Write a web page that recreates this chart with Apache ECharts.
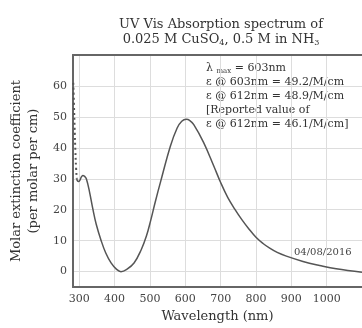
<!DOCTYPE html>
<html lang="en">
<head>
    <meta charset="UTF-8">
    <title>UV Vis</title>
    <script src="https://cdn.jsdelivr.net/npm/echarts@6/dist/echarts.min.js"></script>
    <style>
        html, body { margin: 0; padding: 0; background: #fff; }
    </style>
</head>
<body>
    <div id="main" style="width: 362px;height: 328px;"></div>
    <script>
        // dotted start of the scan (below ~292 nm)
        var dottedNm = [283, 285, 287, 289, 291, 293]
        var dottedEps = [61, 54, 46, 39, 33.5, 30]

        // measured spectrum
        var nm = [293, 295, 298, 302, 306, 310, 315, 320, 329, 338, 348, 362, 375, 390, 405, 418, 435, 455, 475, 490, 502, 515, 530, 558, 577, 590, 603, 612, 624, 652, 680, 700, 720, 740, 760, 780, 800, 820, 840, 860, 886, 933, 980, 1027, 1100]
        var eps = [30, 29.3, 29.1, 29.6, 30.6, 31.1, 30.8, 30, 25.8, 20.5, 15.3, 10, 6, 2.8, 0.8, 0, 0.8, 2.8, 7, 11.5, 16.5, 22.5, 29, 40.6, 46.4, 48.6, 49.2, 48.9, 47.5, 41.7, 34.3, 28.8, 24, 20.2, 16.8, 13.8, 11.1, 9.1, 7.5, 6.2, 5, 3.3, 2, 0.9, -0.2]

        var font = 'DejaVu Serif'

        function pairs(xs, ys) {
            return xs.map(function(x, i) { return [x, ys[i]] })
        }

        var mCharts = echarts.init(document.getElementById('main'))

        var option = {
            animation: false,
            title: {
                text: 'UV Vis Absorption spectrum of\n0.025 M CuSO{s|4}, 0.5 M in NH{s|3}',
                left: 216,
                top: 12,
                textAlign: 'center',
                textStyle: {
                    fontFamily: font,
                    fontSize: 13,
                    fontWeight: 'normal',
                    color: '#333',
                    lineHeight: 15,
                    rich: {
                        s: { fontFamily: font, fontSize: 8, color: '#333', verticalAlign: 'bottom', padding: [6, 0, 0, 0] }
                    }
                }
            },
            grid: {
                left: 71,
                right: 0,
                top: 55,
                bottom: 37
            },
            xAxis: [{
                type: 'value',
                min: 282,
                max: 1100,
                minInterval: 100,
                maxInterval: 100,
                name: 'Wavelength (nm)',
                nameLocation: 'middle',
                nameGap: 21,
                nameTextStyle: { fontFamily: font, fontSize: 13, color: '#333' },
                axisLine: { show: true, onZero: false, lineStyle: { color: '#666', width: 2 } },
                axisTick: { show: false },
                axisLabel: {
                    fontFamily: font, fontSize: 11, color: '#444', margin: 7,
                    showMinLabel: false, showMaxLabel: false,
                    formatter: function(v) { return String(v) }
                },
                splitLine: { show: true, lineStyle: { color: '#ddd', width: 1 } }
            }, {
                type: 'value',
                position: 'top',
                min: 282,
                max: 1100,
                axisLine: { show: true, onZero: false, lineStyle: { color: '#666', width: 2 } },
                axisTick: { show: false },
                axisLabel: { show: false },
                splitLine: { show: false }
            }],
            yAxis: {
                type: 'value',
                min: -5,
                max: 70,
                minInterval: 10,
                maxInterval: 10,
                name: 'Molar extinction coefficient\n(per molar per cm)',
                nameLocation: 'middle',
                nameGap: 15,
                nameTextStyle: { fontFamily: font, fontSize: 13, color: '#333', lineHeight: 17 },
                axisLine: { show: true, onZero: false, lineStyle: { color: '#666', width: 2 } },
                axisTick: { show: false },
                axisLabel: {
                    fontFamily: font, fontSize: 11, color: '#444', margin: 6,
                    showMinLabel: false, showMaxLabel: false
                },
                splitLine: { show: true, lineStyle: { color: '#ddd', width: 1 } }
            },
            series: [{
                type: 'line',
                data: pairs(dottedNm, dottedEps),
                smooth: true,
                showSymbol: false,
                lineStyle: { color: '#555', width: 2, type: [2, 3] }
            }, {
                type: 'line',
                data: pairs(nm, eps),
                smooth: 0.4,
                showSymbol: false,
                lineStyle: { color: '#555', width: 1.5 }
            }],
            graphic: [{
                type: 'text',
                left: 206,
                top: 61,
                style: {
                    text: 'λ {s|max} = 603nm\nε @ 603nm = 49.2/M/cm\nε @ 612nm = 48.9/M/cm\n[Reported value of\nε @ 612nm = 46.1/M/cm]',
                    font: '11px "DejaVu Serif"',
                    fill: '#333',
                    lineHeight: 14,
                    rich: {
                        s: { fontFamily: font, fontSize: 7, fill: '#333', padding: [7, 0, 0, 0] }
                    }
                }
            }, {
                type: 'text',
                left: 294,
                top: 247,
                style: {
                    text: '04/08/2016',
                    font: '10px "DejaVu Serif"',
                    fill: '#444'
                }
            }]
        }
        mCharts.setOption(option)
    </script>
</body>
</html>
